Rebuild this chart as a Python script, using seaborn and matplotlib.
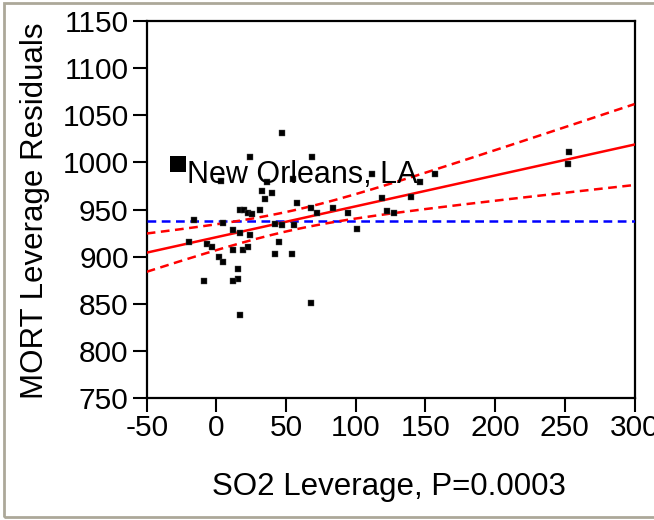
import numpy as np
import pandas as pd
import matplotlib
matplotlib.use("Agg")
import matplotlib.pyplot as plt
import seaborn as sns
from matplotlib.patches import Rectangle

# ---- data ----
so2_leverage = [46.9, 24.1, 68.4, 3.3, 36.1, 55.2, 111.3, 146.1, 156.9, 32.9,
                39.9, 34.9, 57.6, 16.9, 19.8, 23.0, 25.2, 31.3, 67.9, 72.0,
                83.5, 94.1, 118.6, 122.1, 127.2, 139.3, 101.1, -15.8, 5.0, 41.7,
                46.9, 55.7, 12.1, 17.2, 24.1, -19.4, -6.9, -3.4, 12.1, 19.3,
                22.9, 45.1, 41.7, 54.0, 1.7, 5.1, 15.7, 15.7, 12.1, -8.9,
                16.9, 67.9, 253.2, 252.6]
mort_resid = [1031.6, 1006.1, 1006.1, 980.4, 979.6, 982.2, 988.3, 979.6, 988.1, 970.1,
              967.3, 961.6, 957.1, 949.1, 949.1, 946.5, 945.9, 949.1, 951.4, 946.5,
              951.4, 946.8, 962.0, 948.9, 946.1, 963.7, 929.5, 938.5, 935.5, 934.3,
              933.7, 933.7, 928.1, 925.6, 923.1, 915.7, 913.1, 910.1, 907.2, 907.2,
              910.1, 915.4, 902.7, 902.7, 900.1, 894.8, 886.8, 876.5, 874.2, 874.2,
              838.0, 850.7, 1010.6, 997.9]

label_point_x = [-27.5]
label_point_y = [997.9]
label_text = "New Orleans, LA"

# fitted line / confidence curve parameters
fit_intercept = 920.8
fit_slope = 0.3274
x_mean = 53.5
ci_half_min = 10.3
ci_spread = 0.1689
y_mean = 938.3

x_ticks = [-50, 0, 50, 100, 150, 200, 250, 300]
y_ticks = [750, 800, 850, 900, 950, 1000, 1050, 1100, 1150]

# ---- figure ----
sns.set_theme(style="white")
plt.rcParams["font.family"] = ["Liberation Sans", "DejaVu Sans"]

W, H = 654, 520
fig = plt.figure(figsize=(W / 100, H / 100), dpi=100)
fig.patch.set_facecolor("white")

ax = fig.add_axes([146.7 / W, 1 - 398.3 / H, (634.5 - 146.7) / W, (398.3 - 21) / H])
ax.set_facecolor("white")

df = pd.DataFrame({"x": so2_leverage, "y": mort_resid})
sns.scatterplot(data=df, x="x", y="y", ax=ax, marker="s", s=16, color="black",
                edgecolor="#555555", linewidth=0.3, zorder=5)
sns.scatterplot(x=label_point_x, y=label_point_y, ax=ax, marker="s", s=140,
                color="black", edgecolor="black", linewidth=0, zorder=6)

xs = np.linspace(-50, 300, 200)
fit = fit_intercept + fit_slope * xs
half = np.sqrt(ci_half_min ** 2 + (ci_spread * (xs - x_mean)) ** 2)
line_df = pd.DataFrame({"x": xs, "fit": fit, "lo": fit - half, "hi": fit + half})

sns.lineplot(data=line_df, x="x", y="fit", ax=ax, color="#ff0000", lw=1.8, zorder=4)
sns.lineplot(data=line_df, x="x", y="hi", ax=ax, color="#ff0000", lw=1.8,
             zorder=4).lines[-1].set_dashes([3.5, 2.2])
sns.lineplot(data=line_df, x="x", y="lo", ax=ax, color="#ff0000", lw=1.8,
             zorder=4).lines[-1].set_dashes([3.5, 2.2])
ax.axhline(y_mean, color="#0000ff", lw=1.8, dashes=[3.5, 2.2], zorder=3)

ax.text(label_point_x[0] + 6.5, 978, label_text, fontsize=22, color="black",
        ha="left", va="baseline", zorder=7)

ax.set_xlim(-50, 300)
ax.set_ylim(750, 1150)
ax.set_xticks(x_ticks)
ax.set_yticks(y_ticks)
ax.set_xticklabels([str(t) for t in x_ticks])
ax.set_yticklabels([str(t) for t in y_ticks])
ax.set_xlabel("")
ax.set_ylabel("")
ax.tick_params(axis="both", direction="out", length=10, width=1.5, color="black",
               labelsize=21.5, labelcolor="black", bottom=True, left=True)
ax.tick_params(axis="y", pad=3.0)
ax.tick_params(axis="x", pad=1.5)
for sp in ax.spines.values():
    sp.set_visible(True)
    sp.set_color("black")
    sp.set_linewidth(1.6)
ax.grid(False)

fig.text(35 / W, 1 - 211 / H, "MORT Leverage Residuals", rotation=90,
         ha="center", va="center", fontsize=22.5, color="black")
fig.text(389 / W, 1 - 487 / H, "SO2 Leverage, P=0.0003",
         ha="center", va="center", fontsize=22.5, color="black")

# outer window frame
fig.patches.append(Rectangle((4 / W, 1 - 517 / H), (W + 20) / W, (517 - 3) / H,
                             transform=fig.transFigure, fill=False,
                             edgecolor="#aca899", linewidth=2, zorder=0))

fig.savefig("out.png", dpi=100)
